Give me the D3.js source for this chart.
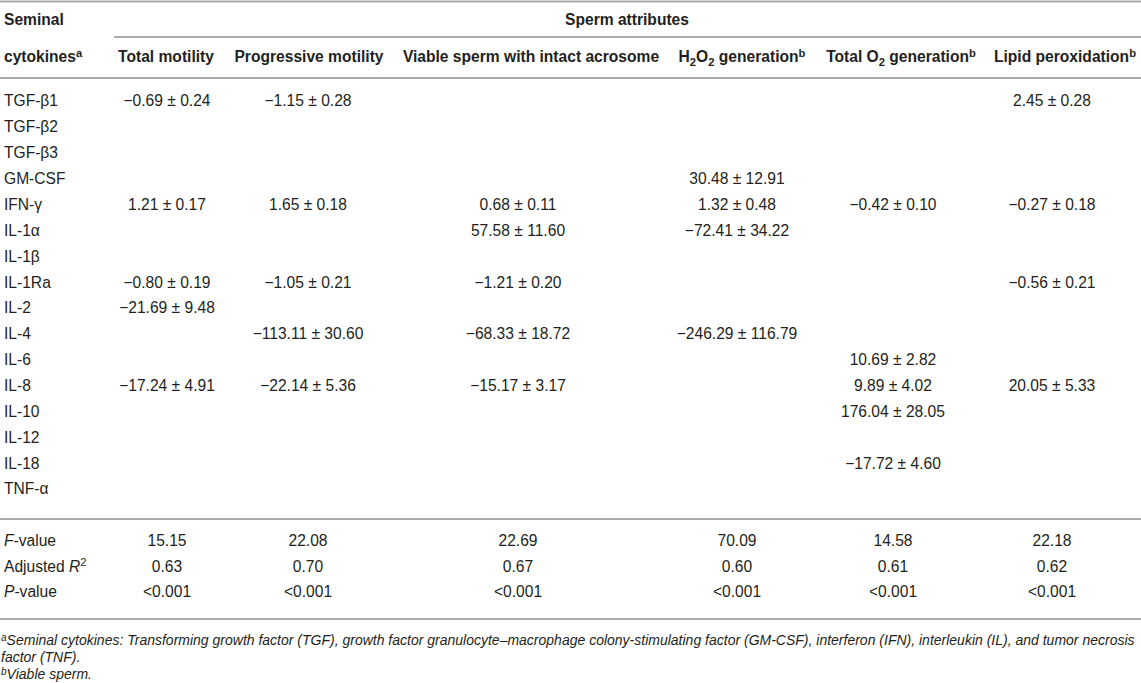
<!DOCTYPE html>
<html>
<head>
<meta charset="utf-8">
<script src="https://cdn.jsdelivr.net/npm/d3@7"></script>
<style>
  body { margin: 0; background: #fff; }
  svg { display: block; font-family: "Liberation Sans", Arial, Helvetica, sans-serif; }
</style>
</head>
<body>
<svg id="table"></svg>
<script>
// row labels
const cytokines = ["TGF-β1", "TGF-β2", "TGF-β3", "GM-CSF", "IFN-γ", "IL-1α", "IL-1β", "IL-1Ra",
  "IL-2", "IL-4", "IL-6", "IL-8", "IL-10", "IL-12", "IL-18", "TNF-α"];

// column headers, _x = subscript, ^x = superscript
const attributes = ["Total motility", "Progressive motility", "Viable sperm with intact acrosome",
  "H_2O_2 generation^b", "Total O_2 generation^b", "Lipid peroxidation^b"];

// coefficient ± SE, in the order of cytokines (null = empty cell)
const totalMotility = [[-0.69, 0.24], null, null, null, [1.21, 0.17], null, null, [-0.80, 0.19],
  [-21.69, 9.48], null, null, [-17.24, 4.91], null, null, null, null];
const progressiveMotility = [[-1.15, 0.28], null, null, null, [1.65, 0.18], null, null, [-1.05, 0.21],
  null, [-113.11, 30.60], null, [-22.14, 5.36], null, null, null, null];
const viableIntactAcrosome = [null, null, null, null, [0.68, 0.11], [57.58, 11.60], null, [-1.21, 0.20],
  null, [-68.33, 18.72], null, [-15.17, 3.17], null, null, null, null];
const h2o2Generation = [null, null, null, [30.48, 12.91], [1.32, 0.48], [-72.41, 34.22], null, null,
  null, [-246.29, 116.79], null, null, null, null, null, null];
const totalO2Generation = [null, null, null, null, [-0.42, 0.10], null, null, null,
  null, null, [10.69, 2.82], [9.89, 4.02], [176.04, 28.05], null, [-17.72, 4.60], null];
const lipidPeroxidation = [[2.45, 0.28], null, null, null, [-0.27, 0.18], null, null, [-0.56, 0.21],
  null, null, null, [20.05, 5.33], null, null, null, null];

const columns = [totalMotility, progressiveMotility, viableIntactAcrosome,
  h2o2Generation, totalO2Generation, lipidPeroxidation];

// model statistics
const statLabels = ["_F-value", "Adjusted _R^2", "_P-value"];
const fValues = [15.15, 22.08, 22.69, 70.09, 14.58, 22.18];
const adjustedR2 = [0.63, 0.70, 0.67, 0.60, 0.61, 0.62];
const pValues = ["<0.001", "<0.001", "<0.001", "<0.001", "<0.001", "<0.001"];

const footnotes = [
  [{ sup: "a" }, { t: "Seminal cytokines: Transforming growth factor (TGF), growth factor granulocyte–macrophage colony-stimulating factor (GM-CSF), interferon (IFN), interleukin (IL), and tumor necrosis" }],
  [{ t: "factor (TNF)." }],
  [{ sup: "b" }, { t: "Viable sperm." }]
];

const width = 1141;
const height = 683;
const textColor = "#231f20";
const ruleColor = "#a7a9ac";
const fontSize = 15.6;

const svg = d3.select("#table")
  .attr("width", width)
  .attr("height", height);

const fmt = (v) => (v < 0 ? "−" : "") + Math.abs(v).toFixed(2);
const cellText = (d) => d ? `${fmt(d[0])} ± ${fmt(d[1])}` : "";

// column positions
const headerX = d3.scaleOrdinal().domain(attributes).range([166, 309, 531, 742, 901, 1065]);
const valueX = d3.scaleOrdinal().domain(d3.range(attributes.length)).range([167, 308, 518, 737, 893, 1052]);
const rowY = d3.scalePoint().domain(cytokines).range([101, 489]);
const statY = d3.scalePoint().domain(statLabels).range([541, 592]);

// write text with _sub and ^sup markers into a text element
// (dy on a small tspan is in its own em, so shifts are given in px)
const richText = (sel, str, italicMark) => {
  const parts = str.match(/[_^]?[^_^]+/g);
  let shift = null;
  const add = (txt, attrs) => {
    const ts = sel.append("tspan").text(txt);
    if (shift !== null) { ts.attr("dy", shift); shift = null; }
    Object.entries(attrs || {}).forEach(([k, v]) => ts.attr(k, v));
    return ts;
  };
  parts.forEach((p) => {
    if (p[0] === "_" && italicMark) {
      // in stat labels "_" marks an italic letter
      add(p[1], { "font-style": "italic" });
      if (p.slice(2)) add(p.slice(2));
    } else if (p[0] === "_") {
      shift = fontSize * 0.22;
      add(p[1], { "font-size": fontSize * 0.72 });
      shift = -fontSize * 0.22;
      if (p.slice(2)) add(p.slice(2));
    } else if (p[0] === "^") {
      shift = -fontSize * 0.36;
      add(p[1], { "font-size": fontSize * 0.72 });
      shift = fontSize * 0.36;
      if (p.slice(2)) add(p.slice(2));
    } else {
      add(p);
    }
  });
};

// rules
const rules = [
  { x1: 0, x2: width, y: 1.5 },
  { x1: 114, x2: width, y: 37 },
  { x1: 0, x2: width, y: 78 },
  { x1: 0, x2: width, y: 519 },
  { x1: 0, x2: width, y: 619 }
];
svg.selectAll("line.rule")
  .data(rules)
  .join("line")
  .attr("class", "rule")
  .attr("x1", (d) => d.x1)
  .attr("x2", (d) => d.x2)
  .attr("y1", (d) => d.y)
  .attr("y2", (d) => d.y)
  .attr("stroke", ruleColor)
  .attr("stroke-width", 1.8);

// header
const head = svg.append("g")
  .attr("font-weight", "bold")
  .attr("font-size", fontSize)
  .attr("fill", textColor);

head.append("text").attr("x", 4).attr("y", 20).attr("dy", "0.35em").text("Seminal");
head.append("text").attr("x", 4).attr("y", 57).attr("dy", "0.35em")
  .call((t) => richText(t, "cytokines^a"));
head.append("text").attr("x", 627).attr("y", 20).attr("dy", "0.35em")
  .attr("text-anchor", "middle").text("Sperm attributes");

head.selectAll("text.col")
  .data(attributes)
  .join("text")
  .attr("class", "col")
  .attr("x", (d) => headerX(d))
  .attr("y", 57)
  .attr("dy", "0.35em")
  .attr("text-anchor", "middle")
  .each(function (d) { richText(d3.select(this), d); });

// body
const body = svg.append("g")
  .attr("font-size", fontSize)
  .attr("fill", textColor);

body.selectAll("text.row")
  .data(cytokines)
  .join("text")
  .attr("class", "row")
  .attr("x", 4)
  .attr("y", (d) => rowY(d))
  .attr("dy", "0.35em")
  .text((d) => d);

columns.forEach((col, ci) => {
  body.selectAll(`text.c${ci}`)
    .data(col.map((v, i) => ({ v, row: cytokines[i] })).filter((d) => d.v))
    .join("text")
    .attr("class", `c${ci}`)
    .attr("x", valueX(ci))
    .attr("y", (d) => rowY(d.row))
    .attr("dy", "0.35em")
    .attr("text-anchor", "middle")
    .text((d) => cellText(d.v));
});

// statistics rows
body.selectAll("text.stat")
  .data(statLabels)
  .join("text")
  .attr("class", "stat")
  .attr("x", 4)
  .attr("y", (d) => statY(d))
  .attr("dy", "0.35em")
  .each(function (d) { richText(d3.select(this), d, true); });

const statRows = [
  { label: statLabels[0], values: fValues.map((v) => v.toFixed(2)) },
  { label: statLabels[1], values: adjustedR2.map((v) => v.toFixed(2)) },
  { label: statLabels[2], values: pValues }
];
statRows.forEach((r, ri) => {
  body.selectAll(`text.s${ri}`)
    .data(r.values)
    .join("text")
    .attr("class", `s${ri}`)
    .attr("x", (d, i) => valueX(i))
    .attr("y", statY(r.label))
    .attr("dy", "0.35em")
    .attr("text-anchor", "middle")
    .text((d) => d);
});

// footnotes
const noteSize = 14;
const notes = svg.append("g")
  .attr("font-size", noteSize)
  .attr("font-style", "italic")
  .attr("fill", textColor);

footnotes.forEach((line, i) => {
  const t = notes.append("text")
    .attr("x", 1)
    .attr("y", 645 + i * 17);
  line.forEach((seg) => {
    if (seg.sup) {
      t.append("tspan").attr("font-size", noteSize * 0.72).attr("dy", -noteSize * 0.3).text(seg.sup);
    } else {
      const ts = t.append("tspan").text(seg.t);
      if (line[0].sup) ts.attr("dy", noteSize * 0.3);
    }
  });
});
</script>
</body>
</html>
